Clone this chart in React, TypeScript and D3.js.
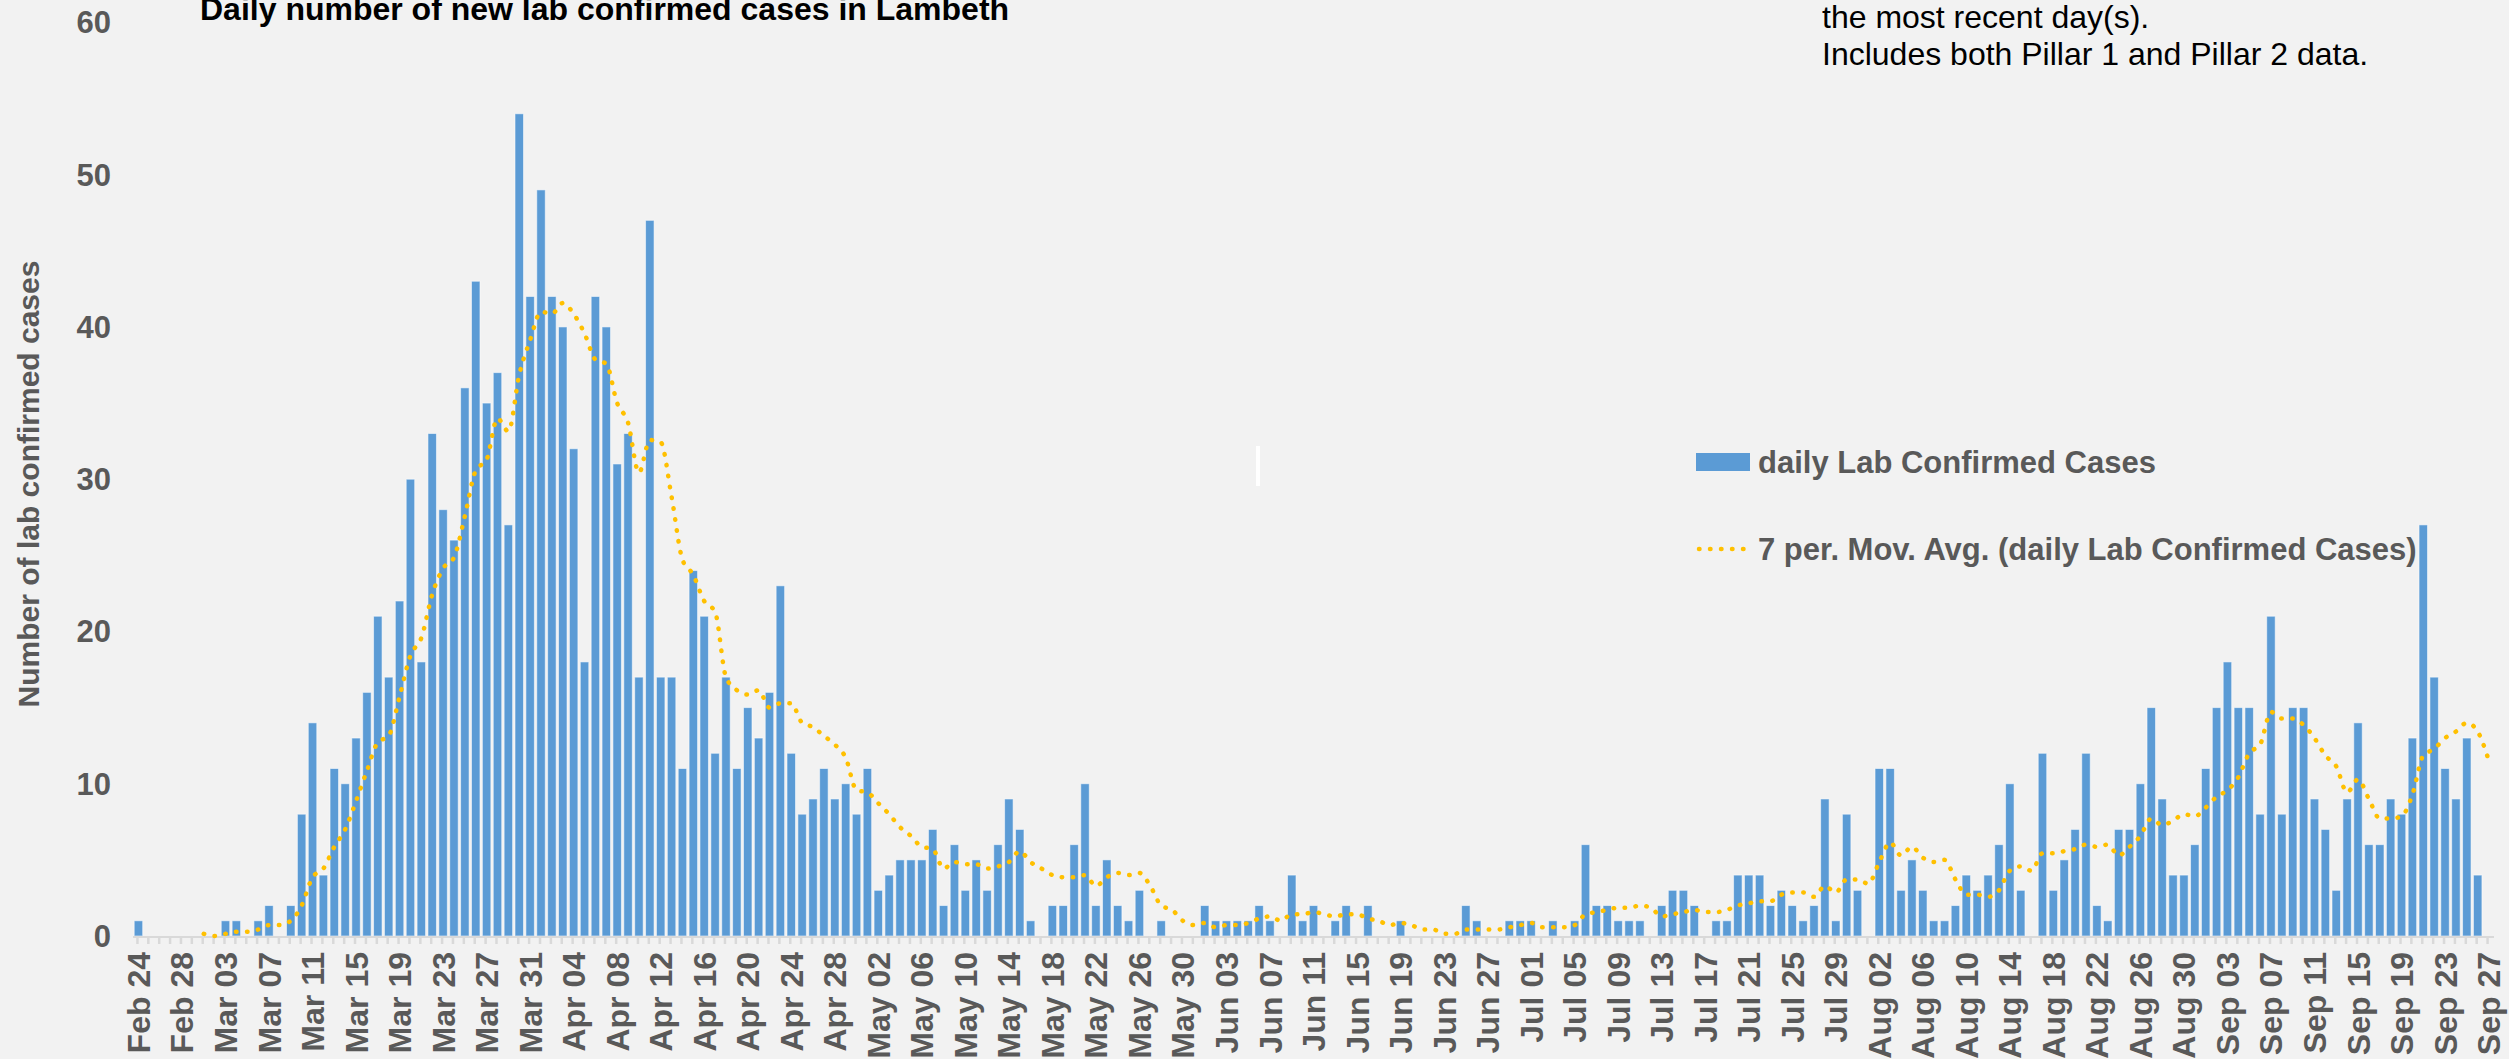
import React from 'react';
import * as d3 from 'd3';

// daily lab confirmed cases, Lambeth, 2020
const feb = [1, 0, 0, 0, 0, 0]; // Feb 24 - 29
const mar = [0, 0, 1, 1, 0, 1, 2, 0, 2, 8, 14, 4, 11, 10, 13, 16, 21, 17, 22, 30, 18, 33, 28, 26, 36, 43, 35, 37, 27, 54, 42];
const apr = [49, 42, 40, 32, 18, 42, 40, 31, 33, 17, 47, 17, 17, 11, 24, 21, 12, 17, 11, 15, 13, 16, 23, 12, 8, 9, 11, 9, 10, 8];
const may = [11, 3, 4, 5, 5, 5, 7, 2, 6, 3, 5, 3, 6, 9, 7, 1, 0, 2, 2, 6, 10, 2, 5, 2, 1, 3, 0, 1, 0, 0, 0];
const jun = [2, 1, 1, 1, 1, 2, 1, 0, 4, 1, 2, 0, 1, 2, 0, 2, 0, 0, 1, 0, 0, 0, 0, 0, 2, 1, 0, 0, 1, 1];
const jul = [1, 0, 1, 0, 1, 6, 2, 2, 1, 1, 1, 0, 2, 3, 3, 2, 0, 1, 1, 4, 4, 4, 2, 3, 2, 1, 2, 9, 1, 8, 3];
const aug = [0, 11, 11, 3, 5, 3, 1, 1, 2, 4, 3, 4, 6, 10, 3, 0, 12, 3, 5, 7, 12, 2, 1, 7, 7, 10, 15, 9, 4, 4, 6];
const sep = [11, 15, 18, 15, 15, 8, 21, 8, 15, 15, 9, 7, 3, 9, 14, 6, 6, 9, 8, 13, 27, 17, 11, 9, 13, 4, 0]; // to Sep 27

const months = [
  { month: 1, first: 24, values: feb },
  { month: 2, first: 1, values: mar },
  { month: 3, first: 1, values: apr },
  { month: 4, first: 1, values: may },
  { month: 5, first: 1, values: jun },
  { month: 6, first: 1, values: jul },
  { month: 7, first: 1, values: aug },
  { month: 8, first: 1, values: sep },
];

const yTicks = [0, 10, 20, 30, 40, 50, 60];
const labelEvery = 4;
const maPeriod = 7;

const title = 'Daily number of new lab confirmed cases in Lambeth';
const noteLines = ['the most recent day(s).', 'Includes both Pillar 1 and Pillar 2 data.'];
const yTitle = 'Number of lab confirmed cases';
const barName = 'daily Lab Confirmed Cases';
const maName = '7 per. Mov. Avg. (daily Lab Confirmed Cases)';

const days = months.flatMap(m =>
  m.values.map((v, k) => ({ date: new Date(2020, m.month, m.first + k), value: v }))
);

const W = 2509, H = 1059;
const FONT = '"Liberation Sans", Arial, sans-serif';
const BLUE = '#5B9BD5';
const GOLD = '#FFC000';
const GREY = '#595959';

export default function App() {
  const x = d3.scaleBand<number>()
    .domain(days.map((_, i) => i))
    .range([133, 2494])
    .paddingInner(0.22)
    .paddingOuter(0.11);
  const y = d3.scaleLinear().domain([0, 60]).range([936, 22.4]);
  const cx = (i: number) => (x(i) as number) + x.bandwidth() / 2;
  const fmt = d3.timeFormat('%b %d');

  const ma = days
    .map((d, i) => ({ i, v: i >= maPeriod - 1 ? d3.mean(days.slice(i - maPeriod + 1, i + 1), e => e.value) : null }))
    .filter(d => d.v != null) as { i: number; v: number }[];

  const maLine = d3.line<{ i: number; v: number }>()
    .x(d => cx(d.i))
    .y(d => y(d.v))
    .curve(d3.curveMonotoneX);

  const base = y(0);

  return (
    <div>
      <style>{`body{margin:0;background:#F2F2F2}`}</style>
      <svg width={W} height={H} style={{ display: 'block', background: '#F2F2F2' }} fontFamily={FONT}>
        <rect width={W} height={H} fill="#F2F2F2" />

        {/* title and note */}
        <text x={200} y={20} fontSize={32} fontWeight="bold" fill="#000">{title}</text>
        {noteLines.map((t, k) => (
          <text key={k} x={1822} y={28 + k * 37} fontSize={32} fill="#000">{t}</text>
        ))}

        {/* y axis labels */}
        {yTicks.map(t => (
          <text key={t} x={111} y={y(t)} dy="0.35em" textAnchor="end" fontSize={31} fontWeight="bold" fill={GREY}>{t}</text>
        ))}
        <text transform={`translate(28,484) rotate(-90)`} textAnchor="middle" dy="0.35em" fontSize={30} fontWeight="bold" fill={GREY}>{yTitle}</text>

        {/* bars */}
        {days.map((d, i) => d.value > 0 && (
          <rect key={i} x={x(i)} y={y(d.value)} width={x.bandwidth()} height={base - y(d.value)}
            fill={BLUE} stroke="#ffffff" strokeOpacity={0.55} strokeWidth={1} />
        ))}

        {/* x axis */}
        <line x1={133} x2={2494} y1={base + 1} y2={base + 1} stroke="#D9D9D9" strokeWidth={2} />
        {days.map((_, i) => (
          <line key={i} x1={cx(i) - 1} x2={cx(i) - 1} y1={base} y2={base + 8} stroke="#D9D9D9" strokeWidth={2.5} />
        ))}
        {days.map((d, i) => i % labelEvery === 0 && (
          <text key={i} transform={`translate(${cx(i)},952) rotate(-90)`} textAnchor="end" dy="0.36em"
            fontSize={32} fontWeight="bold" fill={GREY}>{fmt(d.date)}</text>
        ))}

        {/* moving average */}
        <path d={maLine(ma) || ''} fill="none" stroke={GOLD} strokeWidth={4.5} strokeDasharray="0.5 10.5" strokeLinecap="round" />

        {/* stray mark */}
        <rect x={1256} y={446} width={4} height={40} fill="#ffffff" />

        {/* legend */}
        <rect x={1696} y={453} width={54} height={18} fill={BLUE} />
        <text x={1758} y={462} dy="0.36em" fontSize={31} fontWeight="bold" fill={GREY}>{barName}</text>
        <line x1={1699} x2={1749} y1={549} y2={549} stroke={GOLD} strokeWidth={4.5} strokeDasharray="0.5 10.5" strokeLinecap="round" />
        <text x={1758} y={549} dy="0.36em" fontSize={31} fontWeight="bold" fill={GREY}>{maName}</text>
      </svg>
    </div>
  );
}
